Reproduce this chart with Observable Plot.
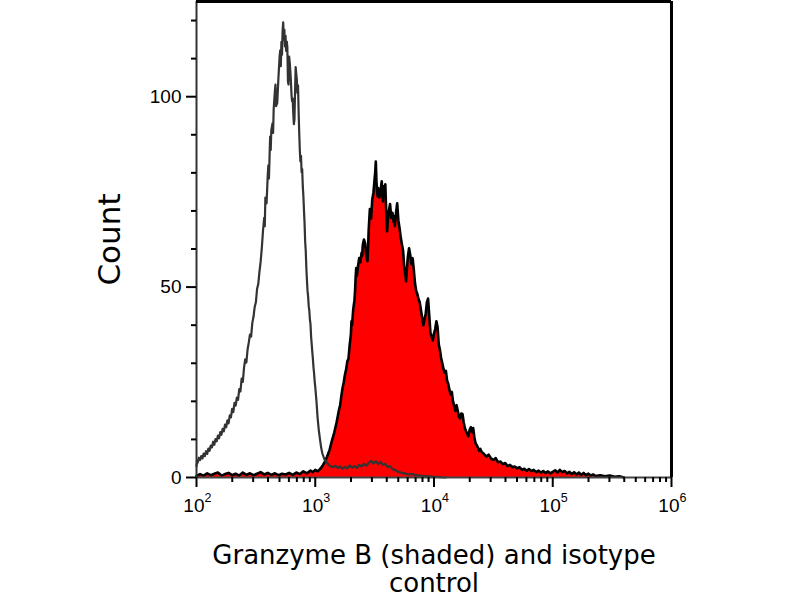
<!DOCTYPE html>
<html><head><meta charset="utf-8">
<script src="https://cdn.jsdelivr.net/npm/d3@7"></script>
<script src="https://cdn.jsdelivr.net/npm/@observablehq/plot@0.6"></script>
<style>body{margin:0;background:#fff}</style>
</head><body><div id="chart"></div>
<script>
// Isotype control histogram: log10(channel) and count
const isoExp = [2.000,2.005,2.010,2.020,2.030,2.040,2.050,2.060,2.070,2.080,2.090,2.100,2.110,2.120,2.130,2.140,2.150,2.160,2.170,2.180,2.190,2.200,2.210,2.220,2.230,2.240,2.250,2.260,2.270,2.280,2.290,2.300,2.310,2.320,2.330,2.340,2.350,2.360,2.370,2.380,2.390,2.400,2.410,2.420,2.430,2.440,2.450,2.460,2.470,2.480,2.490,2.500,2.510,2.520,2.530,2.540,2.550,2.560,2.570,2.575,2.580,2.590,2.600,2.605,2.610,2.620,2.625,2.630,2.640,2.645,2.650,2.660,2.665,2.670,2.680,2.690,2.700,2.705,2.710,2.715,2.720,2.725,2.730,2.735,2.740,2.745,2.750,2.755,2.760,2.765,2.770,2.775,2.780,2.785,2.790,2.795,2.800,2.805,2.810,2.815,2.820,2.825,2.830,2.835,2.840,2.845,2.850,2.855,2.860,2.865,2.870,2.875,2.880,2.885,2.890,2.895,2.900,2.905,2.910,2.915,2.920,2.925,2.930,2.935,2.940,2.945,2.950,2.955,2.960,2.965,2.970,2.975,2.980,2.985,2.990,2.995,3.000,3.010,3.020,3.030,3.040,3.050,3.060,3.070,3.080,3.090,3.100,3.115,3.130,3.150,3.170,3.190,3.210,3.230,3.250,3.270,3.290,3.310,3.330,3.350,3.370,3.390,3.410,3.430,3.450,3.470,3.490,3.510,3.530,3.550,3.570,3.590,3.610,3.630,3.650,3.670,3.690,3.710,3.730,3.760,3.790,3.820,3.850,3.880,3.920,3.960,4.000,4.050,4.100];
const isoCount = [3.0,4.4,3.9,5.2,4.6,5.6,5.0,6.3,5.6,6.9,6.2,7.6,7.0,8.4,7.9,9.4,8.6,10.1,9.5,11.0,10.3,11.9,11.2,12.8,12.1,13.9,13.2,15.0,14.2,16.3,15.8,18.0,17.2,19.6,18.9,21.0,20.4,23.2,22.6,26.0,25.1,28.8,31.0,30.2,33.6,35.4,37.5,37.0,40.6,42.2,44.8,46.0,49.5,50.8,54.0,56.6,60.3,64.8,68.2,66.0,73.5,72.0,79.4,82.0,78.5,89.5,86.0,91.2,93.0,90.5,96.8,101.5,103.2,97.5,98.4,105.0,110.6,112.2,108.0,114.4,111.0,117.2,119.5,115.0,117.6,113.2,116.0,112.0,114.5,113.0,104.0,103.2,110.5,109.0,106.8,104.2,100.5,98.8,99.5,95.5,92.8,94.0,101.5,107.8,106.0,104.5,101.0,103.0,96.0,90.5,86.0,83.0,84.5,80.2,81.0,76.5,74.0,70.2,66.8,62.0,59.5,55.0,51.8,49.0,47.5,45.0,43.8,41.5,40.2,37.0,35.1,33.0,31.2,29.0,27.4,25.3,23.8,20.1,15.6,12.4,10.0,7.8,6.3,5.4,4.6,4.2,3.8,3.3,2.9,2.7,3.1,2.5,2.9,2.3,2.8,2.4,3.2,2.6,3.0,2.5,3.3,2.9,3.6,3.1,3.8,4.4,3.7,4.3,3.5,4.1,3.3,3.6,2.7,3.0,2.2,2.0,1.6,1.4,1.2,1.0,0.8,0.9,0.6,0.5,0.4,0.3,0.2,0.1,0];

// Granzyme B histogram (shaded): log10(channel) and count
const gzExp = [2.00,2.03,2.06,2.09,2.12,2.15,2.18,2.21,2.24,2.27,2.30,2.33,2.36,2.39,2.42,2.45,2.48,2.51,2.54,2.57,2.60,2.63,2.66,2.69,2.72,2.75,2.78,2.81,2.84,2.87,2.90,2.93,2.96,2.98,3.00,3.02,3.04,3.06,3.08,3.10,3.12,3.14,3.16,3.18,3.20,3.21,3.22,3.23,3.24,3.25,3.26,3.27,3.28,3.29,3.30,3.305,3.31,3.32,3.33,3.335,3.34,3.345,3.35,3.36,3.37,3.38,3.39,3.395,3.40,3.41,3.42,3.43,3.44,3.445,3.45,3.46,3.47,3.48,3.49,3.50,3.505,3.51,3.515,3.52,3.525,3.53,3.54,3.55,3.56,3.565,3.57,3.575,3.58,3.59,3.595,3.60,3.605,3.61,3.62,3.63,3.64,3.65,3.66,3.665,3.67,3.68,3.69,3.70,3.71,3.72,3.73,3.74,3.75,3.76,3.765,3.77,3.78,3.79,3.80,3.81,3.82,3.83,3.84,3.85,3.86,3.87,3.88,3.89,3.90,3.91,3.92,3.93,3.94,3.95,3.96,3.97,3.98,3.99,4.00,4.01,4.02,4.03,4.04,4.05,4.06,4.07,4.08,4.09,4.10,4.11,4.12,4.13,4.14,4.15,4.16,4.17,4.18,4.19,4.20,4.21,4.22,4.23,4.24,4.25,4.26,4.27,4.28,4.29,4.30,4.31,4.32,4.33,4.34,4.35,4.36,4.37,4.38,4.39,4.40,4.42,4.44,4.46,4.48,4.50,4.52,4.54,4.56,4.58,4.60,4.62,4.64,4.66,4.68,4.70,4.72,4.74,4.76,4.78,4.80,4.82,4.84,4.86,4.88,4.90,4.92,4.94,4.96,4.98,5.00,5.02,5.04,5.06,5.08,5.10,5.12,5.14,5.16,5.18,5.20,5.22,5.24,5.26,5.28,5.30,5.32,5.34,5.36,5.40,5.44,5.48,5.52,5.56,5.60];
const gzCount = [0.4,0.9,0.5,1.1,0.6,1.0,1.3,0.5,0.9,1.2,0.6,1.0,0.5,1.3,0.7,1.1,0.6,1.0,1.4,0.8,1.2,0.7,1.1,0.6,1.0,0.8,1.2,0.7,1.3,0.9,1.6,1.1,1.8,1.4,2.0,1.6,2.2,3.0,4.1,5.5,7.2,9.6,11.8,14.5,17.8,19.0,21.5,23.5,25.0,27.0,28.4,30.5,31.2,34.8,37.5,41.0,40.0,44.2,46.5,48.8,52.5,55.0,53.0,55.4,57.6,56.5,59.0,58.2,61.0,62.5,61.5,58.0,56.8,60.5,65.0,70.5,68.0,73.0,74.8,78.5,80.2,83.0,78.0,75.5,73.8,76.0,73.5,75.2,77.8,74.0,72.5,76.5,75.0,77.0,72.0,68.5,64.6,67.0,70.0,71.8,68.2,69.5,67.0,68.5,66.0,69.5,72.0,67.5,65.5,63.0,61.2,59.5,55.0,53.0,51.5,54.0,58.0,60.2,58.4,56.0,57.6,54.5,51.0,49.0,48.2,46.8,46.0,44.0,42.0,40.0,41.5,43.0,46.0,47.0,42.5,38.0,37.0,36.0,37.8,39.0,41.0,39.5,35.0,33.5,31.4,30.0,28.5,27.5,28.0,25.5,24.6,23.0,21.8,22.5,20.0,18.8,17.5,19.0,17.5,16.0,15.5,16.8,16.7,14.5,13.0,12.2,11.5,10.8,12.5,13.2,12.0,13.0,10.5,9.0,8.5,7.8,7.0,7.5,6.8,6.2,5.5,6.0,5.0,4.6,5.1,4.0,4.2,3.5,3.8,3.0,3.3,2.7,2.9,2.4,2.7,2.0,2.3,1.8,2.2,1.7,2.0,1.4,1.8,1.3,1.7,1.2,1.6,1.1,1.5,1.9,1.3,2.0,1.4,1.7,1.1,1.5,0.9,1.4,0.8,1.3,0.7,1.2,0.6,1.0,0.5,0.8,0.4,0.6,0.3,0.5,0.2,0.3,0];

// Axis ticks and labels
const yMajorTicks = [0, 50, 100];
const yMinorTicks = [10, 20, 30, 40, 60, 70, 80, 90, 110, 120];
const xTickExponents = [2, 3, 4, 5, 6];
const xMinorMultipliers = [2, 3, 4, 5, 6, 7, 8, 9];
const yTitle = "Count";
const xTitle = "Granzyme B (shaded) and isotype\ncontrol";

const iso = isoExp.map((e, i) => ({x: Math.pow(10, e), y: isoCount[i]}));
const gz = gzExp.map((e, i) => ({x: Math.pow(10, e), y: gzCount[i]}));
const xMajor = xTickExponents.map(e => Math.pow(10, e));
const xMinor = xTickExponents.slice(0, -1).flatMap(e => xMinorMultipliers.map(m => m * Math.pow(10, e)));

const chart = Plot.plot({
  width: 800, height: 600,
  marginLeft: 196, marginRight: 129, marginTop: 1, marginBottom: 123,
  style: {fontFamily: "Liberation Sans", background: "white", color: "black"},
  x: {type: "log", domain: [100, 1e6]},
  y: {domain: [0, 125]},
  marks: [
    Plot.areaY(gz, {x: "x", y: "y", fill: "#ff0000"}),
    Plot.lineY(gz, {x: "x", y: "y", stroke: "#000", strokeWidth: 2.6}),
    Plot.lineY(iso, {x: "x", y: "y", stroke: "#333", strokeWidth: 2.2}),
    Plot.ruleY([0], {stroke: "#444", strokeWidth: 2}),
    Plot.ruleX([100], {stroke: "#333", strokeWidth: 2}),
    Plot.ruleY([125], {stroke: "#000", strokeWidth: 3}),
    Plot.ruleX([1e6], {stroke: "#000", strokeWidth: 3}),
    Plot.axisY(yMajorTicks, {tickSize: 10, tickPadding: 5, fontSize: 19, strokeWidth: 2, label: null}),
    Plot.axisY(yMinorTicks, {tickSize: 5, tickFormat: () => "", strokeWidth: 2, label: null}),
    Plot.axisX(xMajor, {tickSize: 10, tickFormat: () => "", strokeWidth: 2, label: null}),
    Plot.axisX(xMinor, {tickSize: 5, tickFormat: () => "", strokeWidth: 2, label: null}),
    Plot.text(xMajor, {x: d => d, frameAnchor: "bottom", text: () => "10", textAnchor: "end", lineAnchor: "top", dx: 8, dy: 21, fontSize: 19}),
    Plot.text(xTickExponents, {x: e => Math.pow(10, e), frameAnchor: "bottom", text: e => String(e), textAnchor: "start", lineAnchor: "top", dx: 8, dy: 16, fontSize: 12.5}),
    Plot.text([yTitle], {frameAnchor: "left", text: d => d, textAnchor: "middle", rotate: -90, dx: -86, fontSize: 31, fontFamily: "DejaVu Sans"}),
    Plot.text([xTitle], {frameAnchor: "bottom", text: d => d, textAnchor: "middle", lineAnchor: "top", dy: 66, fontSize: 26, lineHeight: 1.1, fontFamily: "DejaVu Sans"})
  ]
});
document.getElementById("chart").appendChild(chart);
</script>
</body></html>
